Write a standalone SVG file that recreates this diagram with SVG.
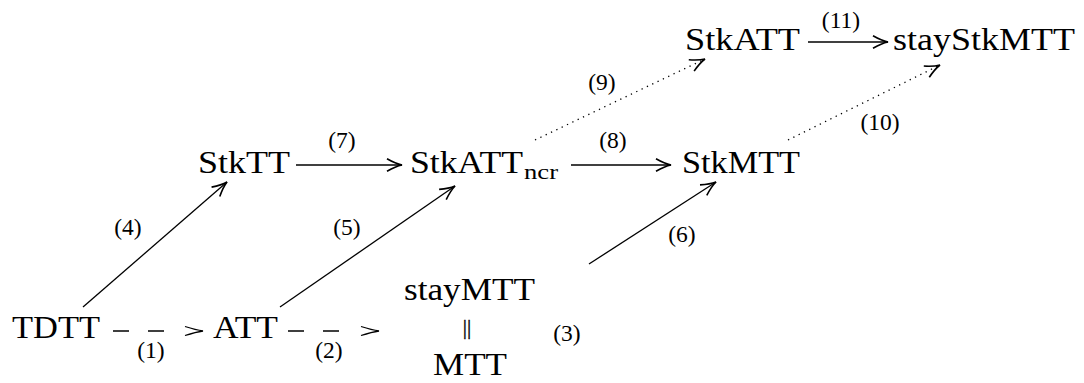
<svg xmlns="http://www.w3.org/2000/svg" width="1084" height="383" viewBox="0 0 1084 383" font-family="Liberation Serif, Times New Roman, serif">
<style>
.n{font-size:31px;fill:#000}
.s{font-size:22px;fill:#000}
.l{font-size:23.5px;fill:#000;text-anchor:middle}
.c{stroke:#000;stroke-width:1.3;fill:none}
.d{stroke-dasharray:16 19}
.o{stroke-dasharray:1.3 4.6}
</style>
<defs>
<marker id="ah" markerUnits="userSpaceOnUse" markerWidth="20" markerHeight="20" viewBox="-14 -7 16 14" refX="0" refY="0" orient="auto" overflow="visible">
<path d="M-12,-5 Q-5,-1 0,0 Q-5,1 -12,5" fill="none" stroke="#000" stroke-width="1.3" stroke-dasharray="none"/>
</marker>
</defs>
<rect width="1084" height="383" fill="#fff"/>
<g id="connectors">
<line class="c d" x1="113" y1="331" x2="168" y2="331"/>
<path class="c" d="M185,326.5 Q196,330 203,331 Q196,332 185,335.5"/>
<line class="c d" x1="288" y1="331" x2="343" y2="331"/>
<path class="c" d="M361,326.5 Q372,330 379,331 Q372,332 361,335.5"/>
<line class="c" x1="83" y1="307" x2="227" y2="182" marker-end="url(#ah)"/>
<line class="c" x1="280" y1="307" x2="455" y2="186" marker-end="url(#ah)"/>
<line class="c" x1="589" y1="264" x2="716" y2="182" marker-end="url(#ah)"/>
<line class="c" x1="296" y1="165" x2="402" y2="165" marker-end="url(#ah)"/>
<line class="c" x1="571" y1="165" x2="671" y2="165" marker-end="url(#ah)"/>
<line class="c o" x1="535" y1="140" x2="705" y2="59" marker-end="url(#ah)"/>
<line class="c o" x1="788" y1="140" x2="940" y2="65" marker-end="url(#ah)"/>
<line class="c" x1="808" y1="42" x2="888" y2="42" marker-end="url(#ah)"/>
<text class="l" x="151" y="357.5">(1)</text>
<text class="l" x="329" y="357.5">(2)</text>
<text class="l" x="567" y="340.5">(3)</text>
<text class="l" x="128" y="234.5">(4)</text>
<text class="l" x="347" y="234.5">(5)</text>
<text class="l" x="682" y="241.5">(6)</text>
<text class="l" x="342" y="147.5">(7)</text>
<text class="l" x="613" y="147.5">(8)</text>
<text class="l" x="602" y="89.5">(9)</text>
<text class="l" x="880" y="129.5">(10)</text>
<text class="l" x="841" y="27.5">(11)</text>
</g>
<g id="TDTT"><text class="n" x="12" y="338" textLength="88" lengthAdjust="spacingAndGlyphs">TDTT</text></g>
<g id="ATT"><text class="n" x="213" y="338" textLength="65" lengthAdjust="spacingAndGlyphs">ATT</text></g>
<g id="stayMTT">
<text class="n" x="404" y="300" textLength="131" lengthAdjust="spacingAndGlyphs">stayMTT</text>
<text x="0" y="0" transform="translate(467,334) rotate(0.01)" style="font-size:21px;text-anchor:middle" fill="#000" stroke="#000" stroke-width="0.35">||</text>
<text class="n" x="433" y="375" textLength="74" lengthAdjust="spacingAndGlyphs">MTT</text>
</g>
<g id="StkTT"><text class="n" x="198" y="173" textLength="92" lengthAdjust="spacingAndGlyphs">StkTT</text></g>
<g id="StkATTncr"><text class="n" x="410" y="173" textLength="113" lengthAdjust="spacingAndGlyphs">StkATT</text><text class="s" x="524" y="179" textLength="34" lengthAdjust="spacingAndGlyphs">ncr</text></g>
<g id="StkMTT"><text class="n" x="682" y="173" textLength="118" lengthAdjust="spacingAndGlyphs">StkMTT</text></g>
<g id="StkATT"><text class="n" x="685" y="50" textLength="115" lengthAdjust="spacingAndGlyphs">StkATT</text></g>
<g id="stayStkMTT"><text class="n" x="893" y="50" textLength="182" lengthAdjust="spacingAndGlyphs">stayStkMTT</text></g>
</svg>
